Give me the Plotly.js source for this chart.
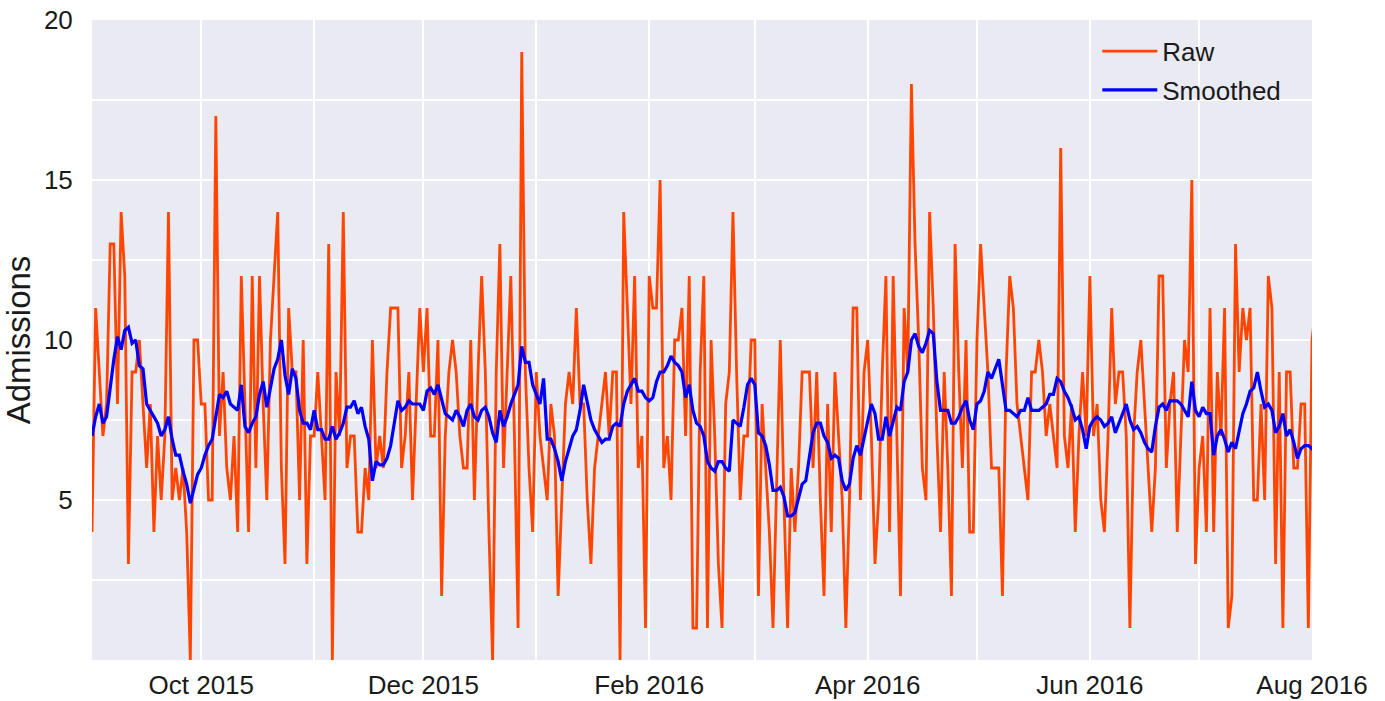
<!DOCTYPE html>
<html>
<head>
<meta charset="utf-8">
<script src="https://cdn.plot.ly/plotly-3.0.1.min.js"></script>
<style>html,body{margin:0;padding:0;background:#fff}#chart{width:1385px;height:701px}</style>
</head>
<body>
<div id="chart"></div>
<script>
// Daily admissions starting 2015-09-01
const startDate = '2015-09-01';
const raw = [
4,11,9,7,8,13,13,8,14,12, 3,9,9,10,8,6,8,4,7,5, 7,14,5,6,5,6,4,0,10,10,
8,8,5,5,17,7,9,6,5,7, 4,12,8,4,12,6,12,8,5,10, 12,14,6,3,11,9,9,5,10,3,
7,7,9,7,5,13,0,9,7,14, 6,7,7,4,4,6,5,10,6,7, 6,9,11,11,11,6,7,9,5,8,
11,9,11,7,7,10,2,7,9,10, 9,7,6,6,10,5,9,12,9,4, 0,9,13,6,9,12,7,1,19,9,
6,4,9,7,6,5,8,7,2,5, 8,9,8,11,8,8,5,3,6,7, 8,9,7,9,9,0,14,11,8,12,
6,7,1,12,11,11,15,6,7,5, 10,10,11,7,12,1,1,9,12,1, 10,7,3,1,8,9,14,9,5,7,
7,10,10,2,8,6,4,1,6,10, 5,1,6,4,6,9,9,9,6,9, 5,2,8,4,9,7,5,1,5,11,
11,5,9,10,7,3,5,9,12,4, 12,7,2,11,9,18,13,10,6,5, 14,11,7,4,9,6,2,13,9,6,
10,4,4,10,13,11,9,6,6,6, 2,9,12,11,8,7,6,5,9,9, 10,9,7,8,7,6,16,7,6,8,
4,7,9,7,12,7,8,5,4,7, 11,8,9,9,7,1,7,9,10,8, 6,4,6,12,12,6,8,9,4,7,
10,9,15,3,6,7,4,11,4,9, 7,11,1,2,13,9,11,10,11,5, 5,8,5,12,11,3,9,1,9,9,
6,6,8,8,1,10,11
];
const smoothed = [
7.0,7.6,8.0,7.4,7.6,8.6,9.4,10.1,9.7,10.3, 10.4,9.9,10.0,9.2,9.1,8.0,7.8,7.6,7.4,7.0, 7.2,7.6,6.9,6.4,6.4,5.9,5.5,4.9,5.4,5.8,
6.0,6.4,6.7,6.9,7.6,8.3,8.2,8.4,8.0,7.9, 7.8,8.6,7.3,7.1,7.4,7.6,8.3,8.7,7.9,8.5, 9.1,9.4,10.0,8.9,8.3,9.1,8.8,7.8,7.4,7.4,
7.2,7.8,7.2,7.2,6.9,6.9,7.3,6.9,7.1,7.4, 7.9,7.9,8.1,7.7,7.9,7.3,6.9,5.6,6.2,6.1, 6.1,6.3,6.7,7.4,8.1,7.8,7.9,8.1,8.0,8.0,
8.0,7.8,8.4,8.5,8.3,8.6,8.1,7.7,7.6,7.5, 7.8,7.6,7.3,7.8,8.0,7.6,7.5,7.8,7.9,7.6, 7.1,6.8,7.8,7.3,7.6,8.0,8.3,8.6,9.8,9.3,
9.3,8.6,8.3,8.0,8.8,6.9,6.9,6.6,6.2,5.6, 6.2,6.6,7.0,7.2,7.8,8.6,8.0,7.5,7.2,7.0, 6.8,6.9,6.9,7.3,7.4,7.3,8.0,8.4,8.6,8.8,
8.4,8.4,8.2,8.1,8.2,8.7,9.0,9.0,9.2,9.5, 9.3,9.2,9.0,8.2,8.6,7.8,7.4,7.3,7.0,6.2, 6.0,5.9,6.2,6.2,6.0,5.9,7.5,7.4,7.3,7.9,
8.6,8.8,8.6,7.1,7.0,6.7,6.1,5.3,5.3,5.4, 5.1,4.5,4.5,4.6,5.1,5.5,5.6,6.4,7.1,7.4, 7.4,7.0,6.8,6.3,6.4,6.3,5.6,5.3,5.5,6.3,
6.7,6.4,6.9,7.4,8.0,7.7,6.9,6.9,7.6,7.0, 7.5,7.9,7.8,8.7,9.0,10.0,10.2,9.8,9.6,9.9, 10.3,10.2,8.7,7.8,7.8,7.8,7.4,7.4,7.6,7.9,
8.1,7.5,7.2,8.0,8.1,8.4,9.0,8.8,9.1,9.4, 8.6,7.8,7.8,7.7,7.6,7.8,7.8,8.2,7.8,7.8, 7.8,7.9,8.0,8.3,8.3,8.8,8.7,8.4,8.2,7.9,
7.5,7.6,7.2,6.6,7.3,7.5,7.6,7.5,7.3,7.4, 7.6,7.1,7.4,7.7,8.0,7.5,7.2,7.3,7.1,6.8, 6.6,6.5,7.3,7.9,8.0,7.8,8.1,8.1,8.1,8.0,
7.8,7.6,8.7,7.8,7.6,7.9,7.7,7.7,6.4,7.0, 7.2,6.9,6.5,6.8,6.6,7.2,7.7,8.0,8.4,8.5, 9.0,8.4,7.9,8.0,7.8,7.1,7.3,7.7,7.0,7.2,
6.8,6.3,6.6,6.7,6.7,6.6,6.8
];
const tickDates = ['2015-10-01','2015-11-01','2015-12-01','2016-01-01','2016-02-01','2016-03-01','2016-04-01','2016-05-01','2016-06-01','2016-07-01','2016-08-01'];
const tickLabels = ['Oct 2015','','Dec 2015','','Feb 2016','','Apr 2016','','Jun 2016','','Aug 2016'];
const yTickVals = [2.5,5,7.5,10,12.5,15,17.5,20];
const yTickLabels = ['','5','','10','','15','','20'];

function dayList(start, n){
  const out = [];
  const t0 = Date.parse(start + 'T00:00:00Z');
  for (let i = 0; i < n; i++) {
    out.push(new Date(t0 + i*86400000).toISOString().slice(0,10));
  }
  return out;
}
const xRaw = dayList(startDate, raw.length);
const xSm = dayList(startDate, smoothed.length);

const font = {family: 'Liberation Sans, Arial, sans-serif', color: '#1a1a1a'};
const data = [
  {x: xRaw, y: raw, type: 'scatter', mode: 'lines', name: 'Raw', legendgroup: 'a',
   line: {color: '#FF4500', width: 2.8}},
  {x: xSm, y: smoothed, type: 'scatter', mode: 'lines', name: 'Smoothed', legendgroup: 'b',
   line: {color: '#0000FF', width: 3.2}}
];
const layout = {
  width: 1385, height: 701,
  margin: {l: 92, r: 73, t: 20, b: 41},
  paper_bgcolor: '#ffffff', plot_bgcolor: '#EAEAF2',
  font: Object.assign({size: 26}, font),
  showlegend: true,
  legend: {x: 0.824, y: 0.988, xanchor: 'left', yanchor: 'top', bgcolor: 'rgba(0,0,0,0)',
           font: Object.assign({size: 26}, font), tracegroupgap: 2, itemwidth: 55},
  xaxis: {type: 'date', range: ['2015-09-01', '2016-08-01'],
          tickvals: tickDates, ticktext: tickLabels, tickangle: 0,
          showgrid: true, gridcolor: '#ffffff', gridwidth: 2, zeroline: false,
          showline: false, ticks: 'outside', ticklen: 2, tickcolor: 'rgba(0,0,0,0)',
          tickfont: Object.assign({size: 26}, font)},
  yaxis: {range: [0, 20], tickvals: yTickVals, ticktext: yTickLabels,
          showgrid: true, gridcolor: '#ffffff', gridwidth: 2, zeroline: false,
          showline: false, ticks: 'outside', ticklen: 13, tickcolor: 'rgba(0,0,0,0)',
          tickfont: Object.assign({size: 26}, font),
          title: {text: 'Admissions', font: Object.assign({size: 33}, font), standoff: 8}}
};
Plotly.newPlot('chart', data, layout, {displayModeBar: false, staticPlot: true});
</script>
</body>
</html>
